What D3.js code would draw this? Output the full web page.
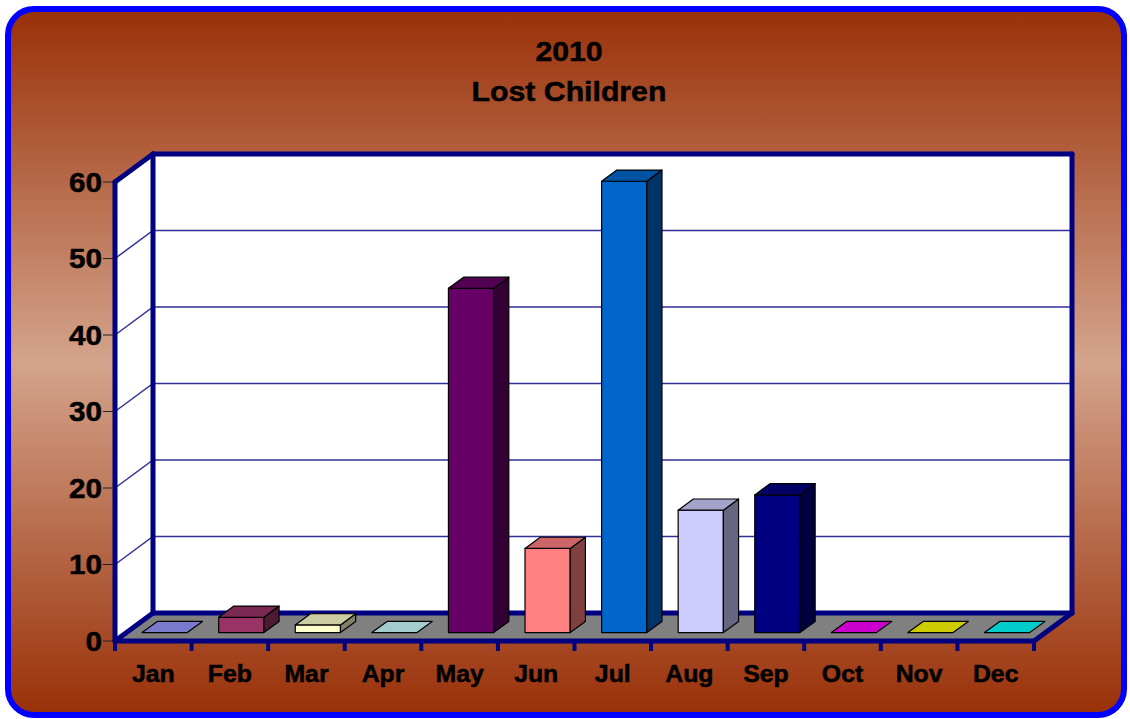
<!DOCTYPE html>
<html>
<head>
<meta charset="utf-8">
<script src="https://cdn.jsdelivr.net/npm/d3@7"></script>
<style>
body{margin:0;background:#fff;}
svg{display:block;}
text{font-family:"Liberation Sans",Arial,sans-serif;font-weight:bold;fill:#000;stroke:#000;stroke-width:0.5px;}
</style>
</head>
<body>
<svg id="chart" width="1130" height="719"></svg>
<script>
// data
var months = ["Jan","Feb","Mar","Apr","May","Jun","Jul","Aug","Sep","Oct","Nov","Dec"];
var lostChildren = [0,2,1,0,45,11,59,16,18,0,0,0];
var barColors = ["#9999FF","#993366","#FFFFCC","#CCFFFF","#660066","#FF8080","#0066CC","#CCCCFF","#000080","#FF00FF","#FFFF00","#00FFFF"];
var yTicks = [0,10,20,30,40,50,60];
var titleLines = ["2010","Lost Children"];

var W = 1130, H = 719;
var navy = "#000080";
// front plane of the 3d box and the depth offset
var front = {left: 115, right: 1034, top: 182, bottom: 641};
var depth = {dx: 38, dy: -28};
var barDepth = [0.3, 0.7];   // bars sit in the middle of the floor depth

var svg = d3.select("#chart");
var defs = svg.append("defs");

var grad = defs.append("linearGradient")
	.attr("id","bg").attr("x1",0).attr("y1",0).attr("x2",0).attr("y2",1);
grad.append("stop").attr("offset","0").attr("stop-color","#993008");
grad.append("stop").attr("offset","0.5").attr("stop-color","#D4A48C");
grad.append("stop").attr("offset","1").attr("stop-color","#993008");

// outer frame (shadow + gradient + blue border)
svg.append("rect")
	.attr("x",10).attr("y",11).attr("width",1116).attr("height",706)
	.attr("rx",26).attr("fill","#000");
svg.append("rect")
	.attr("x",8).attr("y",9).attr("width",1116).attr("height",706)
	.attr("rx",26)
	.attr("fill","url(#bg)")
	.attr("stroke","#0000FF").attr("stroke-width",6);

var x = d3.scaleBand()
	.domain(months)
	.range([front.left, front.right])
	.paddingInner(0).paddingOuter(0);

var y = d3.scaleLinear()
	.domain([0, 60])
	.range([front.bottom, front.top]);

// project a point from front plane back to depth fraction d
function proj(px, py, d){
	return [px + d*depth.dx, py + d*depth.dy];
}
function poly(pts){
	return pts.map(function(p){ return p.join(","); }).join(" ");
}

var box = svg.append("g");

// back wall
box.append("polygon")
	.attr("points", poly([
		proj(front.left, y(60), 1), proj(front.right, y(60), 1),
		proj(front.right, y(0), 1), proj(front.left, y(0), 1)]))
	.attr("fill","#fff");
// left wall
box.append("polygon")
	.attr("points", poly([
		proj(front.left, y(60), 0), proj(front.left, y(60), 1),
		proj(front.left, y(0), 1), proj(front.left, y(0), 0)]))
	.attr("fill","#fff");

// gridlines (back wall + left wall)
var grid = box.append("g");
yTicks.filter(function(t){ return t>0 && t<60; }).forEach(function(t){
	var a = proj(front.left, y(t), 0),
		b = proj(front.left, y(t), 1),
		c = proj(front.right, y(t), 1);
	grid.append("polyline")
		.attr("points", poly([a,b,c]))
		.attr("fill","none")
		.attr("stroke","#30309a")
		.attr("stroke-width",1.5);
});

// floor
box.append("polygon")
	.attr("points", poly([
		proj(front.left, y(0), 0), proj(front.right, y(0), 0),
		proj(front.right, y(0), 1), proj(front.left, y(0), 1)]))
	.attr("fill","#808080");

// thick navy edges
var edges = [
	[proj(front.left, y(0), 0), proj(front.left, y(60), 0)],
	[proj(front.left, y(60), 0), proj(front.left, y(60), 1)],
	[proj(front.left, y(60), 1), proj(front.right, y(60), 1)],
	[proj(front.right, y(60), 1), proj(front.right, y(0), 1)],
	[proj(front.left, y(60), 1), proj(front.left, y(0), 1)],
	[proj(front.left, y(0), 1), proj(front.right, y(0), 1)],
	[proj(front.left, y(0), 0), proj(front.left, y(0), 1)],
	[proj(front.right, y(0), 0), proj(front.right, y(0), 1)],
	[proj(front.left, y(0), 0), proj(front.right, y(0), 0)]
];
box.selectAll("line.edge")
	.data(edges)
	.enter().append("line")
	.attr("class","edge")
	.attr("x1",function(d){ return d[0][0]; })
	.attr("y1",function(d){ return d[0][1]; })
	.attr("x2",function(d){ return d[1][0]; })
	.attr("y2",function(d){ return d[1][1]; })
	.attr("stroke",navy)
	.attr("stroke-width",5)
	.attr("stroke-linecap","round");

// x tick marks at category boundaries
var bounds = months.map(function(m){ return x(m); }).concat([front.right]);
box.selectAll("line.xtick")
	.data(bounds)
	.enter().append("line")
	.attr("class","xtick")
	.attr("x1",function(d){ return d; }).attr("x2",function(d){ return d; })
	.attr("y1",front.bottom).attr("y2",front.bottom+10)
	.attr("stroke",navy).attr("stroke-width",4);

// y ticks + labels
var yAxis = svg.append("g");
yAxis.selectAll("line")
	.data(yTicks)
	.enter().append("line")
	.attr("x1",front.left-12).attr("x2",front.left-2)
	.attr("y1",function(d){ return y(d); })
	.attr("y2",function(d){ return y(d); })
	.attr("stroke","#222").attr("stroke-width",1);
yAxis.selectAll("text")
	.data(yTicks)
	.enter().append("text")
	.attr("transform",function(d){ return "translate(" + (front.left-13) + "," + y(d) + ") scale(1.1,1)"; })
	.attr("dy","0.36em")
	.attr("text-anchor","end")
	.style("font-size","27px")
	.text(function(d){ return d; });

// bars
function shade(c, k){
	var col = d3.rgb(c);
	return d3.rgb(col.r*k, col.g*k, col.b*k).formatHex();
}
var bw = x.bandwidth()*0.59;
var bars = svg.append("g").selectAll("g")
	.data(months.map(function(m,i){ return {m:m, v:lostChildren[i], c:barColors[i]}; }))
	.enter().append("g");

bars.each(function(d){
	var g = d3.select(this);
	var x0 = x(d.m) + (x.bandwidth()-bw)/2, x1 = x0 + bw;
	var d0 = barDepth[0], d1 = barDepth[1];
	var yt = y(d.v), yb = y(0);
	if (d.v > 0) {
		// front
		g.append("polygon")
			.attr("points", poly([proj(x0,yt,d0), proj(x1,yt,d0), proj(x1,yb,d0), proj(x0,yb,d0)]))
			.attr("fill", d.c).attr("stroke","#000").attr("stroke-width",1.2)
			.attr("stroke-linejoin","round");
		// side
		g.append("polygon")
			.attr("points", poly([proj(x1,yt,d0), proj(x1,yt,d1), proj(x1,yb,d1), proj(x1,yb,d0)]))
			.attr("fill", shade(d.c,0.5)).attr("stroke","#000").attr("stroke-width",1.2)
			.attr("stroke-linejoin","round");
	}
	// top
	g.append("polygon")
		.attr("points", poly([proj(x0,yt,d0), proj(x1,yt,d0), proj(x1,yt,d1), proj(x0,yt,d1)]))
		.attr("fill", shade(d.c,0.8)).attr("stroke","#000").attr("stroke-width",1.2)
		.attr("stroke-linejoin","round");
});

// x labels
svg.append("g").selectAll("text")
	.data(months)
	.enter().append("text")
	.attr("transform",function(d){ return "translate(" + (x(d) + x.bandwidth()/2) + ",682) scale(1.08,1)"; })
	.attr("text-anchor","middle")
	.style("font-size","23px")
	.text(function(d){ return d; });

// title
svg.append("g").selectAll("text")
	.data(titleLines)
	.enter().append("text")
	.attr("transform",function(d,i){ return "translate(569," + (61 + i*40) + ") scale(1.08,1)"; })
	.attr("text-anchor","middle")
	.style("font-size","28px")
	.text(function(d){ return d; });
</script>
</body>
</html>
